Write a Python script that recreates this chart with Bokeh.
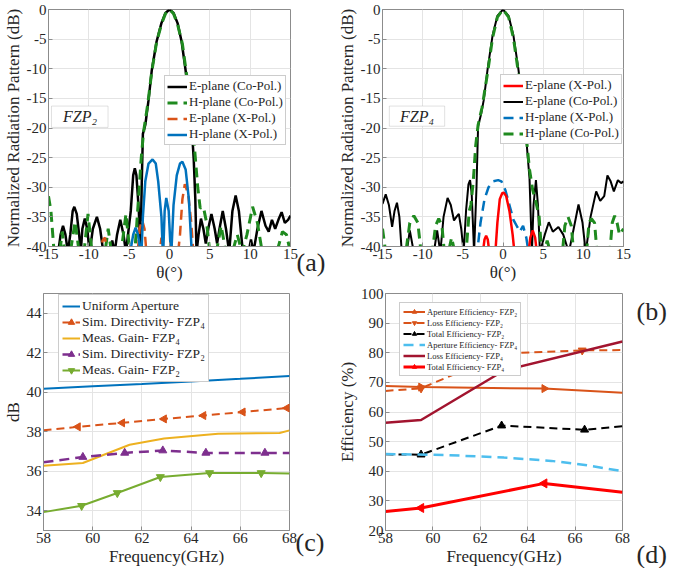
import math
from bokeh.plotting import figure
from bokeh.layouts import column, row
from bokeh.models import (Range1d, FixedTicker, Legend, LegendItem, Label, BoxAnnotation, LinearAxis)
from bokeh.embed import file_html
from bokeh.resources import INLINE

FONT = "Liberation Serif"

# ---------------- Panel (a): FZP2 radiation patterns ----------------
a_eco_theta = [-15, -13.8, -13.5, -13.2, -12.9, -12.6, -12.3, -12.0, -11.8, -11.5, -11.2, -11.0, -10.8, -10.5,
               -10.2, -9.9, -9.5, -9.0, -8.6, -8.2, -7.4, -7.1, -6.8, -6.5, -6.1, -5.7, -5.4, -4.8, -4.5, -4.3,
               -4.1, -3.8, -3.6, -3.45, -3.3, -3.0, -2.6, -2.2, -1.6, -1.0, -0.5, 0, 0.5, 1.0, 1.5, 2.0, 2.4, 2.8,
               3.0, 3.2, 3.35, 3.6, 3.9, 4.2, 4.5, 4.8, 5.2, 5.6, 5.9, 6.2, 6.6, 7.0, 7.4, 7.8, 8.2, 8.6, 9.1,
               9.8, 10.1, 10.4, 10.9, 11.4, 11.9, 12.3, 12.7, 13.1, 13.5, 13.9, 14.3, 14.7, 15]
a_eco_db = [-45, -41, -38, -36.5, -38, -41, -38, -34, -33.3, -34.5, -38, -41, -37, -35.3,
            -37, -41, -37, -35, -37, -41, -41, -39, -41, -38, -35.5, -38, -41, -34, -28, -26.8,
            -28, -34, -41, -30, -21, -19.5, -15.3, -10.3, -5.4, -2.3, -0.6, 0, -0.6, -2.3, -5.4, -10.3, -15.3, -20.8,
            -25.2, -32, -41, -38, -35.3, -37, -39.5, -37, -34.5, -37, -39.5, -37, -34, -37, -41, -34, -31.4, -34, -41,
            -41, -38.8, -41, -37, -34, -36.5, -37.5, -35.5, -37, -35.5, -34.2, -36, -35.5, -34.8]

a_hco_theta = [-15, -14.7, -14.3, -13.6, -13.3, -13.0, -12.3, -11.7, -11.2, -10.6, -10.1, -9.6, -8.0, -7.6,
               -7.2, -6.0, -5.4, -4.9, -4.3, -3.9, -3.5, -3.2, -2.7, -2.2, -1.6, -1.0, -0.5, 0, 0.5, 1.0, 1.6,
               2.1, 2.6, 2.9, 3.2, 3.5, 3.8, 4.2, 4.6, 5.0, 5.8, 6.4, 7.0, 7.8, 8.4, 9.0, 9.6, 10.3, 10.9, 11.5,
               13.3, 14.0, 14.5, 15]
a_hco_db = [-31.5, -34, -41, -41, -37.5, -41, -41, -35.8, -41, -41, -34.5, -41, -41, -37,
            -41, -41, -34.5, -41, -41, -33, -25, -20.5, -16, -10.5, -5.5, -2.5, -0.7, 0, -0.7, -2.5, -5.8,
            -10.8, -16, -20, -25, -30, -33.5, -33.3, -36, -41, -41, -36.5, -41, -41, -38, -41, -38, -33.3, -36, -41,
            -41, -37.5, -38, -41]

a_exp_theta = [-8.6, -8.3, -8.0, -7.6, -4.0, -3.7, -3.4, -3.1, -2.8, -1.3, -1.0, -0.7, 1.0, 1.3, 1.6, 1.9, 2.3, 2.7, 3.0]
a_exp_db = [-42, -39, -38.5, -42, -42, -37, -35.5, -37, -42, -42, -38.5, -42, -42, -38, -32, -29.5, -31, -36, -42]

a_hxp_theta = [-5.0, -4.5, -4.2, -3.9, -3.5, -3.3, -3.0, -2.6, -2.1, -1.7, -1.4, -1.0, -0.8, -0.6, -0.4, -0.1,
               0.2, 0.5, 0.9, 1.3, 1.6, 2.0, 2.4, 2.8]
a_hxp_db = [-42, -38, -36.8, -38, -42, -35, -29, -26, -25.3, -26, -29, -35, -42, -34, -31.8, -34,
            -42, -33, -28, -26, -25.7, -27, -32, -42]

# ---------------- Panel (b): FZP4 radiation patterns ----------------
b_eco_theta = [-15, -14.6, -14.2, -13.8, -13.5, -13.2, -12.9, -12.6, -12.0, -11.6, -11.1, -8.6, -8.2, -7.8, -7.4,
               -6.9, -6.5, -6.1, -5.8, -5.5, -5.2, -4.9, -4.6, -4.3, -4.1, -3.9, -3.6, -3.3, -3.1, -2.7, -2.4,
               -1.9, -1.3, -0.7, 0, 0.7, 1.3, 1.9, 2.5, 2.9, 3.3, 3.6, 3.8, 4.1, 4.35, 4.6, 5.2, 5.7, 6.2, 6.9,
               7.5, 8.2, 8.8, 9.4, 9.9, 10.3, 10.9, 11.6, 12.1, 12.6, 13.0, 13.4, 13.8, 14.3, 14.7, 15]
b_eco_db = [-32.8, -31.2, -33, -36.7, -34, -32.6, -35, -41, -41, -37.3, -41, -41, -37.3, -41, -35,
            -31.8, -33, -35.6, -35, -34.5, -37, -41, -34, -29.5, -28.8, -31, -41, -30, -19.7, -17.5, -15.3,
            -9.9, -4.4, -1.1, 0, -1.1, -4.4, -9.9, -16.4, -21.9, -28.5, -41, -33, -28.8, -33, -41, -38, -35.9, -37.5, -36.7,
            -38, -41, -37, -32.9, -36, -41, -35, -30.7, -32.3, -31.5, -28, -29, -30.7, -28.8, -29.3, -29]

b_exp_theta = [-2.6, -2.3, -2.1, -1.9, -1.6, -1.0, -0.7, -0.4, -0.1, 0.1, 0.4, 0.8, 1.2, 1.5, 3.1, 3.4, 3.7, 4.0, 4.3]
b_exp_db = [-42, -38.8, -38.2, -38.8, -42, -42, -36, -32, -31, -30.9, -31.5, -34, -38, -42, -42, -38.5, -37.3, -38.5, -42]

b_hxp_theta = [-3.3, -2.8, -2.3, -1.8, -1.2, -0.6, -0.2, 0.3, 0.8, 1.3, 1.7, 2.1, 2.5, 2.9, 3.3]
b_hxp_db = [-42, -36, -32, -30, -29, -28.8, -29, -30.5, -33, -35.5, -36.5, -37.5, -36.5, -38.5, -42]

b_hco_theta = [-15, -14.6, -12.1, -11.6, -11.1, -10.6, -10.2, -8.8, -8.4, -8.0, -7.6, -7.3, -6.8, -6.4, -6.0,
               -4.6, -4.2, -4.0, -3.7, -3.4, -3.1, -2.6, -1.9, -1.3, -0.7, 0, 0.7, 1.3, 1.9, 2.5, 2.9, 3.3, 3.7,
               4.1, 4.5, 4.8, 5.1, 5.5, 5.9, 7.4, 7.7, 8.1, 8.5, 8.8, 10.4, 10.7, 11.0, 11.4, 11.7, 13.3, 13.6,
               13.9, 14.2, 14.5, 15]
b_hco_db = [-37, -41, -41, -36, -34.8, -36, -41, -41, -36.5, -35.3, -36.5, -41, -41, -38.5, -41,
            -41, -34, -33, -29, -23, -19.5, -16.5, -10.5, -4.8, -1.3, 0, -1.3, -4.8, -10.5, -16, -21.5, -27, -30.5,
            -32.5, -35, -41, -41, -39, -41, -41, -36.5, -35, -36.5, -41, -41, -36, -35.3, -36, -41, -41, -36,
            -34.8, -36, -38, -37]

# ---------------- Panel (c): gain / directivity ----------------
c_ua_f = [58, 60, 62, 64, 66, 68]
c_ua_db = [40.18, 40.3, 40.42, 40.55, 40.68, 40.82]
c_sd4_f = [58, 59.4, 61.2, 62.9, 64.5, 66.1, 67.9, 68]
c_sd4_db = [38.08, 38.25, 38.45, 38.65, 38.82, 39.0, 39.2, 39.22]
c_sd4_mf = [59.4, 61.2, 62.9, 64.5, 66.1, 67.9]
c_sd4_mdb = [38.25, 38.45, 38.65, 38.82, 39.0, 39.2]
c_mg4_f = [58, 59.6, 61.5, 62.9, 65.1, 67.6, 68]
c_mg4_db = [36.28, 36.42, 37.34, 37.66, 37.9, 37.94, 38.07]
c_sd2_f = [58, 59.6, 61.3, 62.85, 64.6, 67.0, 68]
c_sd2_db = [36.45, 36.72, 36.93, 37.05, 36.93, 36.93, 36.92]
c_sd2_mf = [59.6, 61.3, 62.85, 64.6, 67.0]
c_sd2_mdb = [36.72, 36.93, 37.05, 36.93, 36.93]
c_mg2_f = [58, 59.55, 61.0, 62.75, 64.75, 66.85, 68]
c_mg2_db = [33.93, 34.25, 34.9, 35.71, 35.91, 35.91, 35.88]
c_mg2_mf = [59.55, 61.0, 62.75, 64.75, 66.85]
c_mg2_mdb = [34.25, 34.9, 35.71, 35.91, 35.91]

# ---------------- Panel (d): efficiencies ----------------
d_ap2_f = [58, 59.5, 64.7, 68]
d_ap2 = [68.8, 68.4, 67.9, 66.5]
d_ap2_mf = [59.5, 64.7]
d_ap2_m = [68.4, 67.9]
d_ls2_f = [58, 59.5, 63.0, 66.3, 68]
d_ls2 = [67.1, 68.0, 79.8, 80.8, 80.9]
d_ls2_mf = [59.5, 66.3]
d_ls2_m = [68.0, 80.8]
d_tt2_f = [58, 59.5, 62.9, 66.4, 68]
d_tt2 = [45.7, 45.6, 55.4, 54.0, 55.2]
d_tt2_mf = [59.5, 62.9, 66.4]
d_tt2_m = [45.6, 55.4, 54.0]
d_ap4_f = [58, 60.5, 63.0, 65.0, 66.5, 68]
d_ap4 = [45.8, 45.5, 44.6, 43.5, 42.0, 40.0]
d_ls4_f = [58, 59.5, 63.0, 68]
d_ls4 = [56.4, 57.3, 74.0, 83.8]
d_tt4_f = [58, 59.5, 64.7, 68]
d_tt4 = [26.4, 27.6, 35.9, 32.9]
d_tt4_mf = [59.5, 64.7]
d_tt4_m = [27.6, 35.9]

theta_ticks = [-15, -10, -5, 0, 5, 10, 15]
pat_ticks = [-40, -35, -30, -25, -20, -15, -10, -5, 0]
freq_ticks = [58, 60, 62, 64, 66, 68]
c_ticks = [34, 36, 38, 40, 42, 44]
d_ticks = [20, 30, 40, 50, 60, 70, 80, 90, 100]

AXC = "#8c8c8c"
TXT = "#262626"
NB = "\u00a0"


def base(width, height, xr, yr, xt, yt, xlabel, ylabel, ml, mr, mt, mb):
    p = figure(width=width, height=height, x_range=Range1d(*xr), y_range=Range1d(*yr),
               output_backend="svg", toolbar_location=None,
               min_border_left=ml, min_border_right=mr, min_border_top=mt, min_border_bottom=mb)
    p.outline_line_color = AXC
    p.outline_line_width = 1
    p.xaxis.ticker = FixedTicker(ticks=xt)
    p.yaxis.ticker = FixedTicker(ticks=yt)
    p.xaxis.major_label_overrides = {t: str(t) for t in xt}
    p.yaxis.major_label_overrides = {t: str(t) for t in yt}
    for ax in p.axis:
        ax.axis_line_color = AXC
        ax.major_tick_line_color = AXC
        ax.major_tick_in = 4
        ax.major_tick_out = 0
        ax.minor_tick_line_color = None
        ax.major_label_text_font = FONT
        ax.major_label_text_font_size = "15px"
        ax.major_label_text_color = TXT
        ax.axis_label_text_font = FONT
        ax.axis_label_text_font_size = "17px"
        ax.axis_label_text_font_style = "normal"
        ax.axis_label_text_color = TXT
        ax.major_label_standoff = 2
        ax.axis_label_standoff = 1
    p.xaxis.axis_label = xlabel
    p.yaxis.axis_label = ylabel
    p.grid.grid_line_color = "#e4e4e4"
    return p


def legend(p, items, loc, size, row_h, glyph_w, pad=3, spacing=0):
    lg = Legend(items=items, location=loc, label_text_font=FONT, label_text_font_size=size,
                label_height=row_h, glyph_height=row_h, glyph_width=glyph_w, spacing=spacing,
                padding=pad, margin=0, label_standoff=2, border_line_color="#9a9a9a",
                border_line_width=1, background_fill_color="white", background_fill_alpha=1,
                label_text_color=TXT)
    p.add_layout(lg)
    return lg


def tags(p, ticks, labels, standoff):
    ax = LinearAxis(ticker=FixedTicker(ticks=ticks),
                    major_label_overrides=dict(zip(ticks, labels)),
                    axis_line_color=None, major_tick_line_color=None, minor_tick_line_color=None,
                    major_tick_in=0, major_tick_out=0, major_label_standoff=standoff,
                    major_label_text_font=FONT, major_label_text_font_size="26px",
                    major_label_text_color=TXT)
    p.add_layout(ax, "right")


DASH = "10 6"
TOP_H = 286
BOT_H = 282

# ---- (a)
pa = base(334, TOP_H, (-15, 15), (-40, 0), theta_ticks, pat_ticks, "θ(°)",
          "Normalized Radiation Pattern (dB)", 46, 44, 9, 40)
ra1 = pa.line(a_eco_theta, a_eco_db, line_color="black", line_width=2.5)
ra2 = pa.line(a_hco_theta, a_hco_db, line_color="#1f8a1f", line_width=3, line_dash=DASH)
ra3 = pa.line(a_exp_theta, a_exp_db, line_color="#D95319", line_width=2.5, line_dash=DASH)
ra4 = pa.line(a_hxp_theta, a_hxp_db, line_color="#0072BD", line_width=2.5)
legend(pa, [LegendItem(label="E-plane (Co-Pol.)", renderers=[ra1]),
            LegendItem(label="H-plane (Co-Pol.)", renderers=[ra2]),
            LegendItem(label="E-plane (X-Pol.)", renderers=[ra3]),
            LegendItem(label="H-plane (X-Pol.)", renderers=[ra4])], (116, 101), "13px", 11, 20, 2, -4)
pa.add_layout(BoxAnnotation(left=-14.63, right=-7.62, top=-16.3, bottom=-19.9, fill_color="white",
                            fill_alpha=1, line_color="#9a9a9a", line_width=1))
pa.add_layout(Label(x=-11.1, y=-18.1, text="FZP₂", text_font=FONT, text_font_size="16px",
                    text_font_style="italic", text_align="center", text_baseline="middle", text_color=TXT))
tags(pa, [-40], [NB + "\n" + NB + "\n(a)"], 6)

# ---- (b)
pb = base(335, TOP_H, (-15, 15), (-40, 0), theta_ticks, pat_ticks, "θ(°)",
          "Normalized Radiation Pattern (dB)", 41, 46, 9, 40)
rb2 = pb.line(b_eco_theta, b_eco_db, line_color="black", line_width=2)
rb4 = pb.line(b_hco_theta, b_hco_db, line_color="#1f8a1f", line_width=3, line_dash=DASH)
rb3 = pb.line(b_hxp_theta, b_hxp_db, line_color="#0072BD", line_width=2.5, line_dash=DASH)
rb1 = pb.line(b_exp_theta, b_exp_db, line_color="#FF0000", line_width=2.5)
legend(pb, [LegendItem(label="E-plane (X-Pol.)", renderers=[rb1]),
            LegendItem(label="E-plane (Co-Pol.)", renderers=[rb2]),
            LegendItem(label="H-plane (X-Pol.)", renderers=[rb3]),
            LegendItem(label="H-plane (Co-Pol.)", renderers=[rb4])], (118, 102), "13px", 11, 20, 2, -4)
pb.add_layout(BoxAnnotation(left=-14.15, right=-7.26, top=-16.3, bottom=-19.7, fill_color="white",
                            fill_alpha=1, line_color="#9a9a9a", line_width=1))
pb.add_layout(Label(x=-10.7, y=-18.0, text="FZP₄", text_font=FONT, text_font_size="16px",
                    text_font_style="italic", text_align="center", text_baseline="middle", text_color=TXT))

# ---- (c)
pc = base(334, BOT_H, (58, 68), (33, 45), freq_ticks, c_ticks, "Frequency(GHz)", "dB", 42, 45, 7, 38)
rc1 = pc.line(c_ua_f, c_ua_db, line_color="#0072BD", line_width=2)
rc2l = pc.line(c_sd4_f, c_sd4_db, line_color="#D95319", line_width=2, line_dash="8 5")
rc2m = pc.scatter(c_sd4_mf, c_sd4_mdb, marker="triangle", angle=math.pi / 2, size=8,
                  fill_color="#D95319", line_color="#D95319")
rc3 = pc.line(c_mg4_f, c_mg4_db, line_color="#EDB120", line_width=2)
rc4l = pc.line(c_sd2_f, c_sd2_db, line_color="#7E2F8E", line_width=2.5, line_dash="10 6")
rc4m = pc.scatter(c_sd2_mf, c_sd2_mdb, marker="triangle", size=8, fill_color="#7E2F8E", line_color="#7E2F8E")
rc5l = pc.line(c_mg2_f, c_mg2_db, line_color="#77AC30", line_width=2)
rc5m = pc.scatter(c_mg2_mf, c_mg2_mdb, marker="inverted_triangle", size=8, fill_color="#77AC30",
                  line_color="#77AC30")
legend(pc, [LegendItem(label="Uniform Aperture", renderers=[rc1]),
            LegendItem(label="Sim. Directivity- FZP₄", renderers=[rc2l, rc2m]),
            LegendItem(label="Meas. Gain- FZP₄", renderers=[rc3]),
            LegendItem(label="Sim. Directivity- FZP₂", renderers=[rc4l, rc4m]),
            LegendItem(label="Meas. Gain- FZP₂", renderers=[rc5l, rc5m])], (15, 148), "13.5px", 16, 18)
tags(pc, [33], [NB + "\n" + NB + "\n(c)"], 6)

# ---- (d)
pd = base(335, BOT_H, (58, 68), (20, 100), freq_ticks, d_ticks, "Frequency(GHz)", "Efficiency (%)", 45, 45, 7, 38)
rd1l = pd.line(d_ap2_f, d_ap2, line_color="#D95319", line_width=2)
rd1m = pd.scatter(d_ap2_mf, d_ap2_m, marker="triangle", angle=-math.pi / 2, size=8,
                  fill_color="#D95319", line_color="#D95319")
rd2l = pd.line(d_ls2_f, d_ls2, line_color="#D95319", line_width=2, line_dash="8 5")
rd2m = pd.scatter(d_ls2_mf, d_ls2_m, marker="inverted_triangle", size=8, fill_color="#D95319",
                  line_color="#D95319")
rd3l = pd.line(d_tt2_f, d_tt2, line_color="black", line_width=2, line_dash="8 5")
rd3m = pd.scatter(d_tt2_mf, d_tt2_m, marker="triangle", size=8, fill_color="black", line_color="black")
rd4 = pd.line(d_ap4_f, d_ap4, line_color="#4DBEEE", line_width=2.5, line_dash="10 6")
rd5 = pd.line(d_ls4_f, d_ls4, line_color="#A2142F", line_width=2.5)
rd6l = pd.line(d_tt4_f, d_tt4, line_color="#FF0000", line_width=3)
rd6m = pd.scatter(d_tt4_mf, d_tt4_m, marker="triangle", angle=math.pi / 2, size=9,
                  fill_color="#FF0000", line_color="#FF0000")
legend(pd, [LegendItem(label="Aperture Efficiency- FZP₂", renderers=[rd1l, rd1m]),
            LegendItem(label="Loss Efficiency- FZP₂", renderers=[rd2l, rd2m]),
            LegendItem(label="Total Efficiency- FZP₂", renderers=[rd3l, rd3m]),
            LegendItem(label="Aperture Efficiency- FZP₄", renderers=[rd4]),
            LegendItem(label="Loss Efficiency- FZP₄", renderers=[rd5]),
            LegendItem(label="Total Efficiency- FZP₄", renderers=[rd6l, rd6m])], (14, 154), "8.5px", 11, 22)
tags(pd, [20, 94], [NB + "\n" + NB + "\n(d)", "(b)"], 14)

layout = column(row(pa, pb), row(pc, pd))
open("out.html", "w").write(file_html(layout, INLINE))
